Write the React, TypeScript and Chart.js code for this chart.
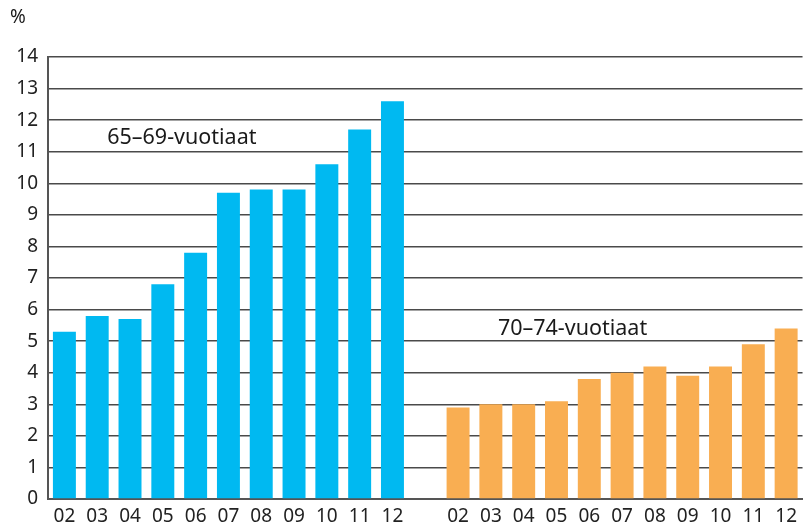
import React, { useEffect, useRef } from "react";
import { Chart, registerables } from "chart.js";

Chart.register(...registerables);

const years = ["02", "03", "04", "05", "06", "07", "08", "09", "10", "11", "12"];
const categories = [...years, "", ...years];
const group1Label = "65–69-vuotiaat";
const group2Label = "70–74-vuotiaat";
const group1Values = [5.3, 5.8, 5.7, 6.8, 7.8, 9.7, 9.8, 9.8, 10.6, 11.7, 12.6];
const group2Values = [2.9, 3.0, 3.0, 3.1, 3.8, 4.0, 4.2, 3.9, 4.2, 4.9, 5.4];
const yTicks = [0, 1, 2, 3, 4, 5, 6, 7, 8, 9, 10, 11, 12, 13, 14];

const FONT = "'Noto Sans', sans-serif";

export default function App() {
  const ref = useRef<HTMLCanvasElement>(null);
  useEffect(() => {
    document.body.style.margin = "0";
    const pad = years.map(() => null);
    const d1 = [...group1Values, null, ...pad];
    const d2 = [...pad, null, ...group2Values];
    const labelsPlugin = {
      id: "groupLabels",
      afterDatasetsDraw(chart: any) {
        const { ctx, scales } = chart;
        const x = scales.x;
        const y = scales.y;
        ctx.save();
        ctx.font = `21.5px ${FONT}`;
        ctx.fillStyle = "#1a1a1a";
        ctx.textBaseline = "middle";
        ctx.textAlign = "left";
        ctx.fillText(group1Label, x.getPixelForValue(1) + 10, y.getPixelForValue(11.45));
        ctx.fillText(group2Label, x.getPixelForValue(13) + 7, y.getPixelForValue(5.4));
        ctx.font = `19px ${FONT}`;
        ctx.fillText("%", 10, 18);
        ctx.restore();
      },
    };
    const chart = new Chart(ref.current!, {
      type: "bar",
      data: {
        labels: categories,
        datasets: [
          {
            label: group1Label,
            data: d1,
            backgroundColor: "#00B9F1",
            grouped: false,
            barPercentage: 0.7,
            categoryPercentage: 1,
          } as any,
          {
            label: group2Label,
            data: d2,
            backgroundColor: "#F9AE52",
            grouped: false,
            barPercentage: 0.7,
            categoryPercentage: 1,
          } as any,
        ],
      },
      options: {
        animation: false,
        responsive: false,
        maintainAspectRatio: false,
        layout: { padding: { top: 57, right: 0, left: 0, bottom: 0 } },
        plugins: { legend: { display: false }, tooltip: { enabled: false } },
        scales: {
          x: {
            grid: { display: false, drawTicks: false },
            border: { display: true, color: "#555", width: 2 },
            ticks: {
              font: { family: FONT, size: 19 },
              color: "#222",
              maxRotation: 0,
              autoSkip: false,
              padding: 6,
            },
            afterFit(scale: any) {
              scale.height = 28;
            },
          },
          y: {
            min: 0,
            max: 14,
            afterBuildTicks(scale: any) {
              scale.ticks = yTicks.map((v) => ({ value: v }));
            },
            grid: { color: "#4a4a4a", lineWidth: 1.5, drawTicks: false },
            border: { display: true, color: "#555", width: 2 },
            ticks: {
              font: { family: FONT, size: 19 },
              color: "#222",
              padding: 10,
            },
            afterFit(scale: any) {
              scale.width = 48;
            },
          },
        },
      },
      plugins: [labelsPlugin],
    });
    return () => chart.destroy();
  }, []);
  return (
    <div style={{ position: "fixed", left: 0, top: 0, width: 803, height: 527 }}>
      <canvas ref={ref} width={803} height={527} style={{ width: 803, height: 527 }} />
    </div>
  );
}
